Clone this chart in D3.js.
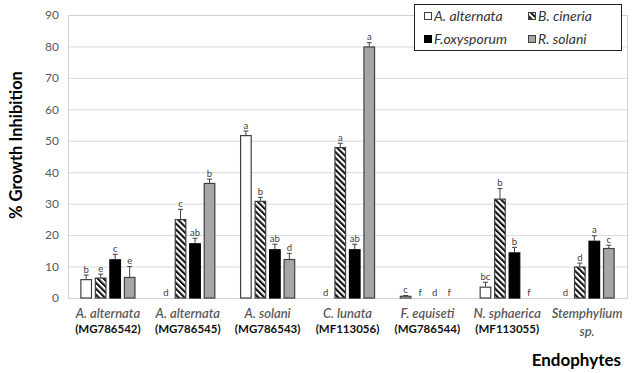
<!DOCTYPE html>
<html><head><meta charset="utf-8">
<script src="https://cdn.jsdelivr.net/npm/d3@7/dist/d3.min.js"></script>
<style>body{margin:0;background:#fff}svg{display:block}</style>
</head><body>
<script>
const categories = ["A. alternata","A. alternata","A. solani","C. lunata","F. equiseti","N. sphaerica","Stemphylium"];
const accessions = ["(MG786542)","(MG786545)","(MG786543)","(MF113056)","(MG786544)","(MF113055)","sp."];
const series = ["A. alternata","B. cineria","F.oxysporum","R. solani"];
const values = [
  [6.0, 6.5, 12.3, 6.7],
  [0, 25.1, 17.4, 36.6],
  [51.8, 30.9, 15.5, 12.4],
  [0, 48.0, 15.5, 80.0],
  [0.7, 0, 0, 0],
  [3.6, 31.6, 14.5, 0],
  [0, 10.0, 18.2, 15.9]
];
const errors = [
  [1.3, 1.1, 1.6, 3.3],
  [0, 3.1, 1.6, 1.2],
  [1.3, 1.1, 1.6, 1.8],
  [0, 1.2, 1.6, 1.2],
  [0.1, 0, 0, 0],
  [1.4, 3.2, 1.6, 0],
  [0, 1.1, 1.6, 0.9]
];
const letters = [
  ["b","e","c","e"],
  ["d","c","ab","b"],
  ["a","b","ab","d"],
  ["d","a","ab","a"],
  ["c","f","d","f"],
  ["bc","b","b","f"],
  ["d","d","a","c"]
];
const yTicks = [0,10,20,30,40,50,60,70,80,90];

const W = 636, H = 373;
const m = {left: 68, right: 9, top: 15, bottom: 75};
const svg = d3.select("body").append("svg").attr("width", W).attr("height", H);
const defs = svg.append("defs");
const pat = defs.append("pattern").attr("id","hatch").attr("patternUnits","userSpaceOnUse")
  .attr("width",4.2).attr("height",4.2).attr("patternTransform","rotate(-45)");
pat.append("rect").attr("width",4.2).attr("height",4.2).attr("fill","#fff");
pat.append("rect").attr("width",2.1).attr("height",4.2).attr("fill","#111");

const fills = ["#ffffff","url(#hatch)","#000000","#a6a6a6"];
const strokes = ["#404040","#404040","#000000","#404040"];

const x0 = d3.scaleBand().domain(d3.range(categories.length)).range([m.left, W - m.right]).paddingInner(0).paddingOuter(0);
const inner = d3.scaleBand().domain(d3.range(series.length)).range([0, 58]).paddingInner(0.2).paddingOuter(0.1);
const y = d3.scaleLinear().domain([0, 90]).range([H - m.bottom, m.top]);

const font = "Lato, 'Open Sans', sans-serif";

// grid
const g = svg.append("g");
g.selectAll("line.grid").data(yTicks).join("line")
  .attr("x1", m.left).attr("x2", W - m.right)
  .attr("y1", d => y(d) + 0.5).attr("y2", d => y(d) + 0.5)
  .attr("stroke", "#d9d9d9").attr("stroke-width", 1);
// plot border
svg.append("rect").attr("x", m.left + 0.5).attr("y", y(90) + 0.5)
  .attr("width", W - m.right - m.left).attr("height", y(0) - y(90))
  .attr("fill", "none").attr("stroke", "#d0d0d0");

// y axis labels
const yAxis = d3.axisLeft(y).tickValues(yTicks).tickSize(0).tickPadding(9);
const ya = svg.append("g").attr("transform", `translate(${m.left},0)`).call(yAxis);
ya.select(".domain").remove();
ya.selectAll("text").attr("font-family", font).attr("font-size", 12).attr("fill", "#595959");

// bars
const groups = svg.append("g").selectAll("g").data(values).join("g")
  .attr("transform", (d, i) => `translate(${x0(i) + x0.bandwidth()/2 - 29},0)`);
groups.each(function(vals, gi) {
  const sel = d3.select(this);
  vals.forEach((v, si) => {
    const bx = inner(si), bw = inner.bandwidth();
    if (v > 0) {
      sel.append("rect").attr("x", bx + 0.5).attr("y", y(v) + 0.5)
        .attr("width", bw - 1).attr("height", Math.max(0, y(0) - y(v) - 0.5))
        .attr("fill", fills[si]).attr("stroke", strokes[si]).attr("stroke-width", 1.2);
    }
    const e = errors[gi][si];
    const cx = bx + bw / 2;
    if (e > 0) {
      sel.append("line").attr("x1", cx).attr("x2", cx).attr("y1", y(v)).attr("y2", y(v + e))
        .attr("stroke", "#404040").attr("stroke-width", 1);
      sel.append("line").attr("x1", cx - 2.5).attr("x2", cx + 2.5).attr("y1", y(v + e)).attr("y2", y(v + e))
        .attr("stroke", "#404040").attr("stroke-width", 1);
    }
    sel.append("text").attr("x", cx).attr("y", y(v + e) - 2.5)
      .attr("text-anchor", "middle").attr("font-family", font).attr("font-size", 9.5)
      .attr("fill", "#404040").text(letters[gi][si]);
  });
});

// x labels
categories.forEach((c, i) => {
  const cx = x0(i) + x0.bandwidth() / 2;
  svg.append("text").attr("x", cx).attr("y", 318).attr("text-anchor", "middle")
    .attr("font-family", font).attr("font-size", 13).attr("font-style", "italic")
    .attr("font-weight", 600).attr("fill", "#595959").text(c);
  const last = i === categories.length - 1;
  svg.append("text").attr("x", cx).attr("y", last ? 336 : 333).attr("text-anchor", "middle")
    .attr("font-family", font).attr("font-size", last ? 13 : 11.5)
    .attr("font-style", last ? "italic" : "normal")
    .attr("font-weight", last ? 600 : 700).attr("fill", last ? "#595959" : "#111").text(accessions[i]);
});

// axis titles
svg.append("text").attr("transform", "translate(22,145) rotate(-90)").attr("text-anchor", "middle")
  .attr("font-family", font).attr("font-size", 16.5).attr("font-weight", 700).attr("fill", "#000")
  .text("% Growth Inhibition");
svg.append("text").attr("x", 621).attr("y", 366).attr("text-anchor", "end")
  .attr("font-family", font).attr("font-size", 17).attr("font-weight", 700).attr("fill", "#000")
  .text("Endophytes");

// legend
const lg = svg.append("g");
lg.append("rect").attr("x", 414.5).attr("y", 4.5).attr("width", 207).attr("height", 46)
  .attr("fill", "#fff").attr("stroke", "#222").attr("stroke-width", 1);
const lpos = [[424, 16], [528, 16], [424, 39], [528, 39]];
series.forEach((s, i) => {
  const [lx, ly] = lpos[i];
  lg.append("rect").attr("x", lx + 0.5).attr("y", ly - 3.5).attr("width", 7).attr("height", 7)
    .attr("fill", fills[i]).attr("stroke", strokes[i]).attr("stroke-width", 1);
  lg.append("text").attr("x", lx + 10).attr("y", ly + 5)
    .attr("font-family", font).attr("font-size", 14).attr("font-style", "italic")
    .attr("fill", "#333").text(s);
});
</script>
</body></html>
